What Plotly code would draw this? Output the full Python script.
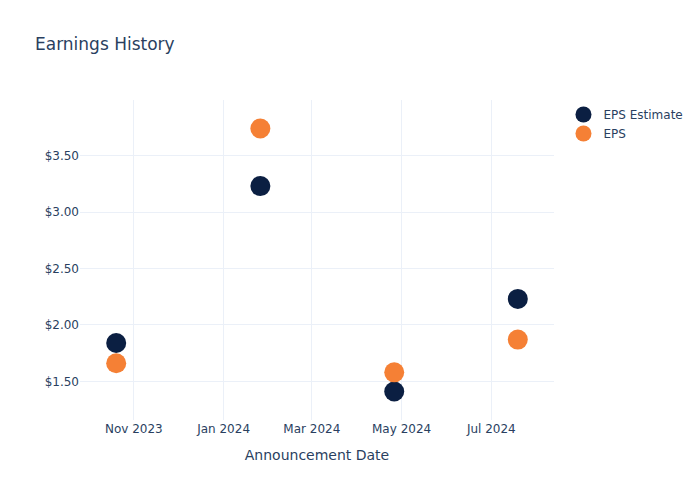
import plotly.graph_objects as go

dates = ["2023-10-20", "2024-01-26", "2024-04-26", "2024-07-19"]
eps_estimate = [1.84, 3.23, 1.41, 2.23]
eps_actual = [1.66, 3.74, 1.58, 1.87]

fig = go.Figure()
fig.add_trace(go.Scatter(x=dates, y=eps_estimate, mode="markers", name="EPS Estimate",
                         marker=dict(color="#0b1f42", size=20)))
fig.add_trace(go.Scatter(x=dates, y=eps_actual, mode="markers", name="EPS",
                         marker=dict(color="#f58035", size=20)))
fig.update_layout(
    template="plotly_white",
    font=dict(family="DejaVu Sans"),
    title=dict(text="Earnings History"),
    xaxis=dict(title="Announcement Date"),
    yaxis=dict(tickprefix="$", tickformat=".2f"),
    width=700, height=500,
)
fig.write_html("out.html", config={"displayModeBar": False},
               post_script="document.body.style.margin='0';")
